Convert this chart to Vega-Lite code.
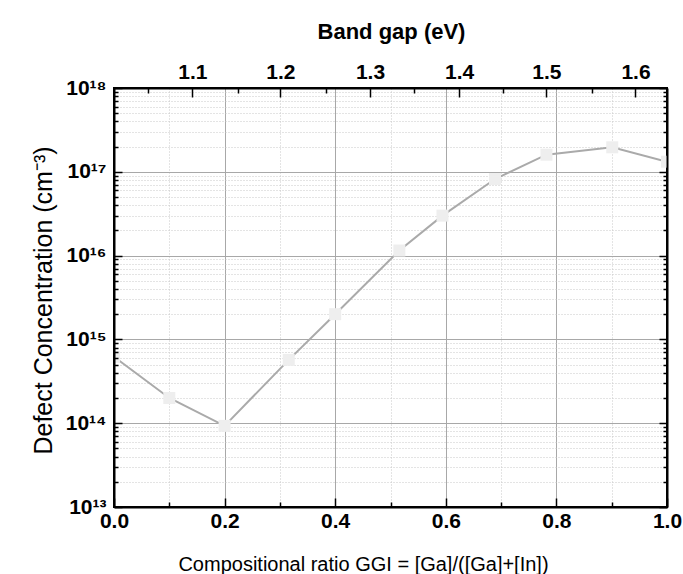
{
  "$schema": "https://vega.github.io/schema/vega-lite/v6.json",
  "width": 553,
  "height": 419,
  "autosize": "none",
  "padding": {"left": 114, "top": 88, "right": 16, "bottom": 67},
  "background": "white",
  "config": {
    "view": {"stroke": "black", "strokeWidth": 2},
    "axis": {
      "labelFont": "Liberation Sans",
      "titleFont": "Liberation Sans",
      "labelColor": "black",
      "titleColor": "black",
      "labelFontSize": 21,
      "labelFontWeight": "bold",
      "titleFontWeight": "normal",
      "labelFlush": false,
      "labelOverlap": false,
      "labelBound": false,
      "tickColor": "black",
      "domainColor": "black",
      "domainWidth": 2,
      "tickWidth": 1.5
    }
  },
  "data": {
    "values": [
      {"ggi": 0.0, "conc": 6.2e14},
      {"ggi": 0.1, "conc": 2.0e14},
      {"ggi": 0.2, "conc": 9.3e13},
      {"ggi": 0.316, "conc": 5.7e14},
      {"ggi": 0.4, "conc": 2.0e15},
      {"ggi": 0.516, "conc": 1.15e16},
      {"ggi": 0.594, "conc": 3.0e16},
      {"ggi": 0.689, "conc": 8.2e16},
      {"ggi": 0.782, "conc": 1.6e17},
      {"ggi": 0.901, "conc": 1.96e17},
      {"ggi": 1.0, "conc": 1.32e17}
    ]
  },
  "layer": [
    {
      "mark": {"type": "point", "opacity": 0},
      "encoding": {
        "x": {"field": "ggi", "type": "quantitative", "scale": {"domain": [0, 1], "nice": false, "zero": false},
          "axis": {"orient": "bottom", "values": [0.2, 0.4, 0.6, 0.8], "grid": true, "gridColor": "#a8a8a8", "gridWidth": 1, "ticks": false, "labels": false, "domain": false, "title": null, "zindex": 0}},
        "y": {"field": "conc", "type": "quantitative", "scale": {"type": "log", "domain": [1e13, 1e18], "nice": false},
          "axis": {"orient": "left", "values": [1e14, 1e15, 1e16, 1e17], "grid": true, "gridColor": "#a8a8a8", "gridWidth": 1, "ticks": false, "labels": false, "domain": false, "title": null, "zindex": 0}}
      }
    },
    {
      "mark": {"type": "point", "opacity": 0},
      "encoding": {
        "x": {"field": "ggi", "type": "quantitative",
          "axis": {"orient": "bottom", "values": [0.1, 0.3, 0.5, 0.7, 0.9], "grid": true, "gridColor": "#c8c8c8", "gridWidth": 1, "gridDash": [1, 2], "ticks": false, "labels": false, "domain": false, "title": null, "zindex": 0}},
        "y": {"field": "conc", "type": "quantitative",
          "axis": {"orient": "left", "values": [2e13, 3e13, 4e13, 5e13, 6e13, 7e13, 8e13, 9e13, 2e14, 3e14, 4e14, 5e14, 6e14, 7e14, 8e14, 9e14, 2e15, 3e15, 4e15, 5e15, 6e15, 7e15, 8e15, 9e15, 2e16, 3e16, 4e16, 5e16, 6e16, 7e16, 8e16, 9e16, 2e17, 3e17, 4e17, 5e17, 6e17, 7e17, 8e17, 9e17], "grid": true, "gridColor": "#c8c8c8", "gridWidth": 1, "gridDash": [1, 2], "ticks": false, "labels": false, "domain": false, "title": null, "zindex": 0}}
      }
    },
    {
      "mark": {"type": "line", "color": "#aaaaaa", "strokeWidth": 2, "clip": true},
      "encoding": {
        "x": {"field": "ggi", "type": "quantitative",
          "axis": {"orient": "bottom", "values": [0, 0.2, 0.4, 0.6, 0.8, 1.0], "format": ".1f", "grid": false, "tickSize": -9, "labelPadding": 12, "domain": true,
            "title": "Compositional ratio GGI = [Ga]/([Ga]+[In])", "titleFontSize": 20, "titleX": 249, "titleY": 63, "titleBaseline": "alphabetic", "titleAlign": "center", "zindex": 1}},
        "y": {"field": "conc", "type": "quantitative",
          "axis": {"orient": "left", "values": [1e13, 1e14, 1e15, 1e16, 1e17, 1e18], "grid": false, "tickSize": -8, "labelPadding": 16,
            "labelExpr": "datum.value >= 9e17 ? '10¹⁸' : datum.value >= 9e16 ? '10¹⁷' : datum.value >= 9e15 ? '10¹⁶' : datum.value >= 9e14 ? '10¹⁵' : datum.value >= 9e13 ? '10¹⁴' : '10¹³'",
            "domain": true, "title": "Defect Concentration (cm⁻³)", "titleFontSize": 25, "titleAngle": -90, "titleX": -63, "titleY": 212, "titleBaseline": "alphabetic", "titleAlign": "center", "zindex": 1}}
      }
    },
    {
      "mark": {"type": "square", "filled": true, "color": "#eeeeee", "opacity": 1, "size": 144, "clip": true},
      "encoding": {
        "x": {"field": "ggi", "type": "quantitative",
          "axis": {"orient": "bottom", "values": [0.1, 0.3, 0.5, 0.7, 0.9], "grid": false, "tickSize": -5, "labels": false, "domain": false, "title": null, "zindex": 1}},
        "y": {"field": "conc", "type": "quantitative",
          "axis": {"orient": "left", "values": [2e13, 3e13, 4e13, 5e13, 6e13, 7e13, 8e13, 9e13, 2e14, 3e14, 4e14, 5e14, 6e14, 7e14, 8e14, 9e14, 2e15, 3e15, 4e15, 5e15, 6e15, 7e15, 8e15, 9e15, 2e16, 3e16, 4e16, 5e16, 6e16, 7e16, 8e16, 9e16, 2e17, 3e17, 4e17, 5e17, 6e17, 7e17, 8e17, 9e17], "grid": false, "tickSize": -4, "labels": false, "domain": false, "title": null, "zindex": 1}}
      }
    },
    {
      "mark": {"type": "point", "opacity": 0},
      "encoding": {
        "x": {"field": "ggi", "type": "quantitative",
          "axis": {"orient": "top", "values": [0.1416, 0.3008, 0.463, 0.624, 0.782, 0.943], "grid": false, "tickSize": -9, "labelPadding": 15,
            "labelExpr": "datum.value < 0.2 ? '1.1' : datum.value < 0.38 ? '1.2' : datum.value < 0.54 ? '1.3' : datum.value < 0.7 ? '1.4' : datum.value < 0.86 ? '1.5' : '1.6'",
            "domain": true, "title": "Band gap (eV)", "titleFontSize": 22, "titleFontWeight": "bold", "titleX": 277, "titleY": -50, "titleBaseline": "alphabetic", "titleAlign": "center", "zindex": 1}},
        "y": {"field": "conc", "type": "quantitative",
          "axis": {"orient": "right", "values": [1e13, 1e14, 1e15, 1e16, 1e17, 1e18], "grid": false, "tickSize": -8, "labels": false, "domain": true, "title": null, "zindex": 1}}
      }
    },
    {
      "mark": {"type": "point", "opacity": 0},
      "encoding": {
        "x": {"field": "ggi", "type": "quantitative",
          "axis": {"orient": "top", "values": [0.062, 0.2237, 0.383, 0.543, 0.703, 0.865], "grid": false, "tickSize": -5, "labels": false, "domain": false, "title": null, "zindex": 1}},
        "y": {"field": "conc", "type": "quantitative",
          "axis": {"orient": "right", "values": [2e13, 3e13, 4e13, 5e13, 6e13, 7e13, 8e13, 9e13, 2e14, 3e14, 4e14, 5e14, 6e14, 7e14, 8e14, 9e14, 2e15, 3e15, 4e15, 5e15, 6e15, 7e15, 8e15, 9e15, 2e16, 3e16, 4e16, 5e16, 6e16, 7e16, 8e16, 9e16, 2e17, 3e17, 4e17, 5e17, 6e17, 7e17, 8e17, 9e17], "grid": false, "tickSize": -4, "labels": false, "domain": false, "title": null, "zindex": 1}}
      }
    }
  ],
  "resolve": {"axis": {"x": "independent", "y": "independent"}}
}
